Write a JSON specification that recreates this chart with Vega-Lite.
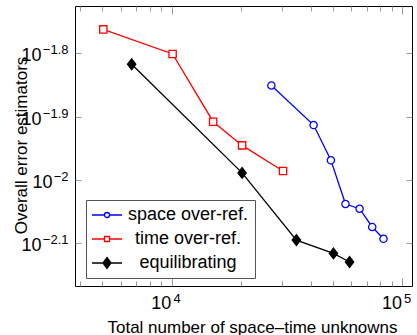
{
  "$schema": "https://vega.github.io/schema/vega-lite/v6.json",
  "autosize": "none",
  "width": 337,
  "height": 280,
  "padding": {"left": 75, "top": 6, "right": 5, "bottom": 49},
  "background": "white",
  "config": {
    "font": "Liberation Sans",
    "view": {"stroke": "black", "strokeWidth": 1},
    "axis": {"domain": false, "grid": false, "tickColor": "#999", "tickWidth": 1, "labelColor": "black", "titleColor": "black", "labelFont": "Liberation Sans", "titleFont": "Liberation Sans", "titleFontWeight": "normal", "labelFontSize": 18, "titleFontSize": 17, "labelFlush": false, "labelOverlap": false},
    "legend": {"orient": "none", "legendX": 11, "legendY": 194, "padding": 6, "rowPadding": 6, "strokeColor": "#555", "fillColor": "white", "cornerRadius": 0, "labelFontSize": 18, "labelFont": "Liberation Sans", "labelAlign": "center", "labelOffset": 78, "labelColor": "black", "symbolSize": 144, "symbolStrokeWidth": 1.3, "symbolOpacity": 1}
  },
  "data": {
    "values": [
      {"series": "space over-ref.", "x": 27010, "y": 0.01410},
      {"series": "space over-ref.", "x": 41180, "y": 0.01221},
      {"series": "space over-ref.", "x": 48940, "y": 0.01074},
      {"series": "space over-ref.", "x": 56620, "y": 0.009163},
      {"series": "space over-ref.", "x": 65170, "y": 0.009006},
      {"series": "space over-ref.", "x": 73930, "y": 0.008428},
      {"series": "space over-ref.", "x": 82750, "y": 0.008073},
      {"series": "time over-ref.", "x": 5042, "y": 0.01729},
      {"series": "time over-ref.", "x": 10070, "y": 0.01581},
      {"series": "time over-ref.", "x": 15100, "y": 0.01236},
      {"series": "time over-ref.", "x": 20160, "y": 0.01134},
      {"series": "time over-ref.", "x": 30340, "y": 0.01033},
      {"series": "equilibrating", "x": 6692, "y": 0.01523},
      {"series": "equilibrating", "x": 20160, "y": 0.01026},
      {"series": "equilibrating", "x": 34670, "y": 0.008036},
      {"series": "equilibrating", "x": 50200, "y": 0.007656},
      {"series": "equilibrating", "x": 58960, "y": 0.00742}
    ]
  },
  "resolve": {"axis": {"x": "independent", "y": "independent"}},
  "layer": [
    {
      "mark": {"type": "line", "strokeWidth": 1.3},
      "encoding": {
        "x": {"field": "x", "type": "quantitative",
          "scale": {"type": "log", "domain": [3800, 110000], "nice": false},
          "axis": {"orient": "top", "title": null, "labels": false,
            "values": [4000, 5000, 6000, 7000, 8000, 9000, 10000, 20000, 30000, 40000, 50000, 60000, 70000, 80000, 90000, 100000],
            "tickSize": {"condition": {"test": "datum.value == 10000 || datum.value == 100000", "value": -8}, "value": -5}}},
        "y": {"field": "y", "type": "quantitative",
          "scale": {"type": "log", "domain": [0.0068, 0.018826], "nice": false},
          "axis": {"orient": "right", "title": null, "labels": false,
            "values": [0.0079433, 0.01, 0.0125893, 0.0158489], "tickSize": -6}},
        "stroke": {"field": "series", "type": "nominal",
          "scale": {"domain": ["space over-ref.", "time over-ref.", "equilibrating"], "range": ["#0000ff", "#ff0000", "#000000"]},
          "legend": {"title": null,
            "encoding": {"symbols": {
              "shape": {"value": {"expr": "datum.value == 'space over-ref.' ? 'M-1.5,0H0.58M1.42,0H3.5M0.58,0A0.42,0.42 0 1,1 1.42,0A0.42,0.42 0 1,1 0.58,0Z' : datum.value == 'time over-ref.' ? 'M-1.5,0H0.58M1.42,0H3.5M0.58,-0.42H1.42V0.42H0.58Z' : 'M-1.5,0H3.5M1,-0.92L1.67,0L1,0.92L0.33,0Z'"}},
              "fill": {"value": {"expr": "datum.value == 'equilibrating' ? 'black' : 'white'"}},
              "size": {"value": 144}, "strokeWidth": {"value": 1.3}}}}},
        "detail": {"field": "series"}
      }
    },
    {
      "transform": [{"filter": {"field": "series", "equal": "space over-ref."}}],
      "mark": {"type": "point", "shape": "circle", "filled": true, "fill": "white", "size": 53, "strokeWidth": 1.3, "opacity": 1},
      "encoding": {
        "x": {"field": "x", "type": "quantitative", "scale": {"type": "log"},
          "axis": {"orient": "bottom", "title": "Total number of space–time unknowns", "labels": false,
            "values": [4000, 5000, 6000, 7000, 8000, 9000, 10000, 20000, 30000, 40000, 50000, 60000, 70000, 80000, 90000, 100000],
            "tickSize": {"condition": {"test": "datum.value == 10000 || datum.value == 100000", "value": -8}, "value": -5},
            "titleX": 177, "titleY": 46, "titleBaseline": "alphabetic", "titleAlign": "center", "titleAnchor": null}},
        "y": {"field": "y", "type": "quantitative", "scale": {"type": "log"},
          "axis": {"orient": "left", "title": "Overall error estimators", "labels": false,
            "values": [0.0079433, 0.01, 0.0125893, 0.0158489], "tickSize": -6,
            "titleX": -54, "titleY": 139, "titleBaseline": "middle", "titleAlign": "center", "titleAngle": -90}},
        "stroke": {"field": "series", "type": "nominal",
          "legend": {"title": null,
            "encoding": {"symbols": {
              "shape": {"value": {"expr": "datum.value == 'space over-ref.' ? 'M-1.5,0H0.58M1.42,0H3.5M0.58,0A0.42,0.42 0 1,1 1.42,0A0.42,0.42 0 1,1 0.58,0Z' : datum.value == 'time over-ref.' ? 'M-1.5,0H0.58M1.42,0H3.5M0.58,-0.42H1.42V0.42H0.58Z' : 'M-1.5,0H3.5M1,-0.92L1.67,0L1,0.92L0.33,0Z'"}},
              "fill": {"value": {"expr": "datum.value == 'equilibrating' ? 'black' : 'white'"}},
              "size": {"value": 144}, "strokeWidth": {"value": 1.3}}}}}
      }
    },
    {
      "transform": [{"filter": {"field": "series", "equal": "time over-ref."}}],
      "mark": {"type": "point", "shape": "square", "filled": true, "fill": "white", "size": 53, "strokeWidth": 1.3, "opacity": 1},
      "encoding": {
        "x": {"field": "x", "type": "quantitative", "scale": {"type": "log"}, "axis": null},
        "y": {"field": "y", "type": "quantitative", "scale": {"type": "log"}, "axis": null},
        "stroke": {"field": "series", "type": "nominal",
          "legend": {"title": null,
            "encoding": {"symbols": {
              "shape": {"value": {"expr": "datum.value == 'space over-ref.' ? 'M-1.5,0H0.58M1.42,0H3.5M0.58,0A0.42,0.42 0 1,1 1.42,0A0.42,0.42 0 1,1 0.58,0Z' : datum.value == 'time over-ref.' ? 'M-1.5,0H0.58M1.42,0H3.5M0.58,-0.42H1.42V0.42H0.58Z' : 'M-1.5,0H3.5M1,-0.92L1.67,0L1,0.92L0.33,0Z'"}},
              "fill": {"value": {"expr": "datum.value == 'equilibrating' ? 'black' : 'white'"}},
              "size": {"value": 144}, "strokeWidth": {"value": 1.3}}}}}
      }
    },
    {
      "transform": [{"filter": {"field": "series", "equal": "equilibrating"}}],
      "mark": {"type": "point", "shape": "M0,-1.47L1.14,0L0,1.47L-1.14,0Z", "filled": true, "fill": "black", "size": 53, "strokeWidth": 1.3, "opacity": 1},
      "encoding": {
        "x": {"field": "x", "type": "quantitative", "scale": {"type": "log"}, "axis": null},
        "y": {"field": "y", "type": "quantitative", "scale": {"type": "log"}, "axis": null},
        "stroke": {"field": "series", "type": "nominal",
          "legend": {"title": null,
            "encoding": {"symbols": {
              "shape": {"value": {"expr": "datum.value == 'space over-ref.' ? 'M-1.5,0H0.58M1.42,0H3.5M0.58,0A0.42,0.42 0 1,1 1.42,0A0.42,0.42 0 1,1 0.58,0Z' : datum.value == 'time over-ref.' ? 'M-1.5,0H0.58M1.42,0H3.5M0.58,-0.42H1.42V0.42H0.58Z' : 'M-1.5,0H3.5M1,-0.92L1.67,0L1,0.92L0.33,0Z'"}},
              "fill": {"value": {"expr": "datum.value == 'equilibrating' ? 'black' : 'white'"}},
              "size": {"value": 144}, "strokeWidth": {"value": 1.3}}}}}
      }
    },
    {
      "mark": {"type": "point", "opacity": 0},
      "encoding": {
        "x": {"field": "x", "type": "quantitative", "scale": {"type": "log"},
          "axis": {"orient": "bottom", "title": null, "ticks": false, "values": [10000, 100000],
            "labelExpr": "'10'", "labelAlign": "right", "labelOffset": -1, "labelPadding": 8.7, "labelBaseline": "top", "labelFontSize": 18}},
        "y": {"field": "y", "type": "quantitative", "scale": {"type": "log"},
          "axis": {"orient": "left", "title": null, "ticks": false,
            "values": [0.0079433, 0.01, 0.0125893, 0.0158489],
            "labelExpr": "'10'",
            "labelAlign": "right", "labelBaseline": "middle",
            "labelPadding": {"condition": {"test": "datum.value > 0.009 && datum.value < 0.011", "value": 23}, "value": 34},
            "labelOffset": 2.5, "labelFontSize": 18}}
      }
    },
    {
      "mark": {"type": "point", "opacity": 0},
      "encoding": {
        "x": {"field": "x", "type": "quantitative", "scale": {"type": "log"},
          "axis": {"orient": "bottom", "title": null, "ticks": false, "values": [10000, 100000],
            "labelExpr": "datum.value == 10000 ? '4' : '5'", "labelAlign": "left", "labelOffset": 1, "labelPadding": 6, "labelBaseline": "top", "labelFontSize": 13}},
        "y": {"field": "y", "type": "quantitative", "scale": {"type": "log"},
          "axis": {"orient": "left", "title": null, "ticks": false,
            "values": [0.0079433, 0.01, 0.0125893, 0.0158489],
            "labelExpr": "datum.value < 0.009 ? '−2.1' : datum.value < 0.011 ? '−2' : datum.value < 0.014 ? '−1.9' : '−1.8'",
            "labelAlign": "right", "labelBaseline": "middle", "labelPadding": 7, "labelOffset": -3.5, "labelFontSize": 13}}
      }
    }
  ]
}
